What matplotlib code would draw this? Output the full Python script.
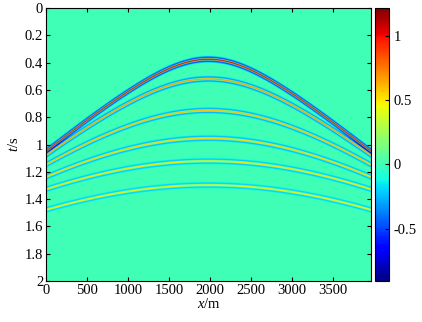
import matplotlib
matplotlib.use("Agg")
import matplotlib.pyplot as plt
import numpy as np

# reflection events
t0 = [0.381, 0.525, 0.755, 0.958, 1.125, 1.300]        # apex time, s
t_edge = [1.05, 1.08, 1.15, 1.24, 1.33, 1.48]          # time at x = 0, s
amp = [1.22, 0.78, 0.68, 0.62, 0.56, 0.52]             # peak amplitude
freq = 28.0                                            # wavelet peak frequency, Hz
x_src = 1980.0                                         # apex position, m
x_max = 3960.0
t_max = 2.0
clim = [-0.91, 1.22]

plt.rcParams['font.family'] = ['Liberation Serif', 'DejaVu Serif']
plt.rcParams['mathtext.fontset'] = 'custom'
plt.rcParams['mathtext.it'] = 'Liberation Serif:italic'
plt.rcParams['mathtext.rm'] = 'Liberation Serif'

dx, dt = 10.0, 0.001
x = np.arange(0, x_max + dx, dx)
t = np.arange(0, t_max + dt, dt)
T, X = np.meshgrid(t, x, indexing='ij')

gather = np.zeros_like(T)
for ta, te, a in zip(t0, t_edge, amp):
    v = x_src / np.sqrt(te**2 - ta**2)
    tt = np.sqrt(ta**2 + ((X - x_src) / v)**2)
    arg = (np.pi * freq * (T - tt))**2
    gather += a * (1 - 2 * arg) * np.exp(-arg)

fig = plt.figure(figsize=(4.22, 3.22), dpi=100)
ax = fig.add_axes([0.109, 0.127, 0.770, 0.848])
cax = fig.add_axes([0.889, 0.127, 0.033, 0.848])

im = ax.imshow(gather, cmap='jet', aspect='auto', extent=[0, x_max, t_max, 0],
               vmin=clim[0], vmax=clim[1], interpolation='bilinear')
ax.set_xlim(0, x_max)
ax.set_ylim(t_max, 0)
ax.set_xticks(np.arange(0, 4000, 500))
ax.set_yticks(np.arange(0, 2.01, 0.2))
ax.set_yticklabels(['0', '0.2', '0.4', '0.6', '0.8', '1', '1.2', '1.4', '1.6', '1.8', '2'])
ax.tick_params(direction='in', top=True, right=True, labelsize=10.5, length=3, pad=2)
ax.set_xlabel('$x$/m', fontsize=10.5, labelpad=0)
ax.set_ylabel('$t$/s', fontsize=10.5, labelpad=3)

cb = fig.colorbar(im, cax=cax)
cb.set_ticks([-0.5, 0, 0.5, 1])
cb.set_ticklabels(['-0.5', '0', '0.5', '1'])
cax.tick_params(direction='in', labelsize=10.5, length=3, pad=3)

fig.savefig('out.png', dpi=100)
